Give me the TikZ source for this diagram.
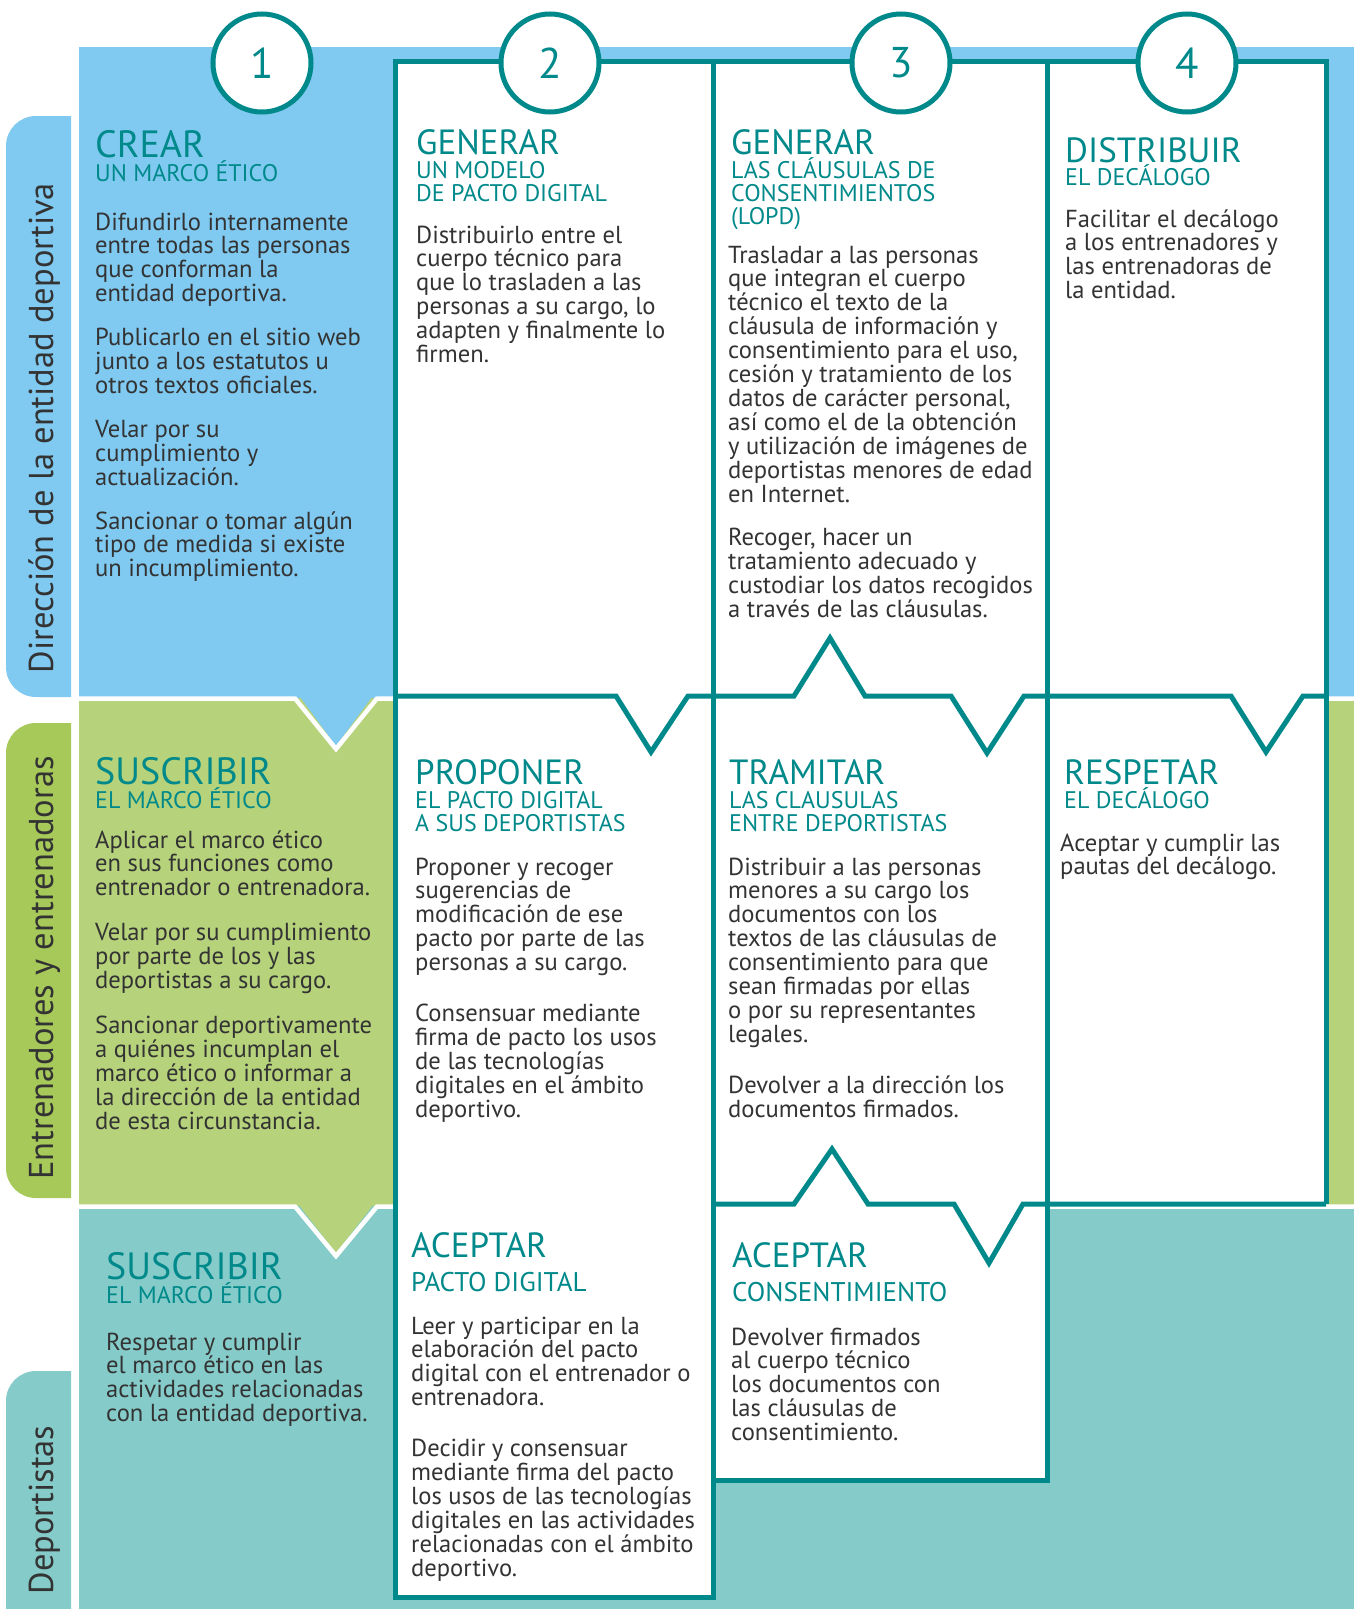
\documentclass[tikz,border=0pt]{standalone}
\usepackage{fontspec}
\setmainfont{PT Sans}
\usetikzlibrary{positioning}
\definecolor{bandblue}{HTML}{80CAF1}
\definecolor{bandgreen}{HTML}{B6D27B}
\definecolor{tabgreen}{HTML}{A6C95A}
\definecolor{bandteal}{HTML}{85CBC9}
\definecolor{lineteal}{HTML}{00898A}
\definecolor{txtgray}{HTML}{333333}
\newcommand{\blk}[1]{\begin{minipage}[t]{500pt}\lineskiplimit=-40pt\raggedright #1\end{minipage}}

\begin{document}
\begin{tikzpicture}[x=1pt, y=-1pt,
  frame/.style={lineteal, line width=5pt, line join=miter},
  sep/.style={white, line width=4.5pt},
  hd/.style={anchor=base west, inner sep=0pt, text=lineteal, font=\fontsize{35}{35}\selectfont},
  hdl/.style={hd, font=\fontsize{38}{38}\selectfont},
  sub/.style={anchor=base west, inner sep=0pt, text=lineteal, font=\fontsize{24}{23}\selectfont},
  subl/.style={sub, font=\fontsize{27}{27}\selectfont},
  body/.style={anchor=base west, inner sep=0pt, text=txtgray, font=\fontsize{24.6}{23.9}\selectfont},
  side/.style={anchor=base, rotate=90, inner sep=0pt, text=txtgray, font=\fontsize{34.5}{34.5}\selectfont},
  num/.style={circle, draw=lineteal, fill=white, line width=5pt, minimum size=98pt, inner sep=0pt, text=lineteal, font=\fontsize{43}{43}\selectfont}]
  \useasboundingbox[fill=white] (0,0) rectangle (1354,1609);

  \fill[bandblue, rounded corners=30pt] (71,116) -- (6,116) -- (6,697) -- (71,697);
  \fill[tabgreen, rounded corners=30pt] (71,723) -- (6,723) -- (6,1198) -- (71,1198);
  \fill[bandteal, rounded corners=30pt] (71,1371) -- (6,1371) -- (6,1700) -- (71,1700);

  \fill[bandgreen] (79,698) rectangle (1354,1206);
  \fill[bandteal] (79,1206) rectangle (1354,1609);
  \fill[bandgreen] (295,1200) -- (336,1253) -- (377,1200) -- cycle;
  \fill[bandblue] (79,47) rectangle (1354,698);
  \fill[bandblue] (295,690) -- (336,746) -- (377,690) -- cycle;
  \draw[sep] (79,698.5) -- (295,698.5) -- (336,749) -- (377,698.5) -- (1354,698.5);
  \draw[sep] (79,1206.5) -- (295,1206.5) -- (336,1256) -- (377,1206.5) -- (1354,1206.5);

  \fill[white] (395,61) rectangle (713,1597);
  \fill[white] (713,61) rectangle (1047,1480);
  \fill[white] (1047,61) rectangle (1326,1204);

  \draw[frame] (713,61) -- (713,1597) -- (395,1597) -- (395,61) -- (1326,61) -- (1326,1204);
  \draw[frame] (1047,61) -- (1047,1480) -- (713,1480);
  \draw[frame] (395,696) -- (616,696) -- (651,752) -- (688,696) -- (794,696) -- (830,638) -- (865,696)
    -- (951,696) -- (987,753) -- (1024,696) -- (1231,696) -- (1266,752) -- (1303,696) -- (1326,696);
  \draw[frame] (713,1204) -- (794,1204) -- (832,1149) -- (868,1204) -- (954,1204) -- (989,1263)
    -- (1023,1204) -- (1326,1204);

  \node[side] (dir) at (53,428) {Dirección de la entidad deportiva};
  \node[side] (ent) at (53,968) {Entrenadores y entrenadoras};
  \node[side] (dep) at (53,1510) {Deportistas};

  \node[hdl] (crear) at (95,157) {CREAR};
  \node[sub] (crearsub) at (95,181) {UN MARCO ÉTICO};
  \node[body] (crearbody) at (95,230) {\blk{Difundirlo internamente\\entre todas las personas\\que conforman la\\entidad deportiva.\\[20pt]Publicarlo en el sitio web\\junto a los estatutos u\\otros textos oficiales.\\[20pt]Velar por su\\cumplimiento y\\actualización.\\[20pt]Sancionar o tomar algún\\tipo de medida si existe\\un incumplimiento.}};

  \node[hdl] (suscent) at (95,784) {SUSCRIBIR};
  \node[sub] (suscentsub) at (95,808.5) {EL MARCO ÉTICO};
  \node[body] (suscentbody) at (95,848) {\blk{Aplicar el marco ético\\en sus funciones como\\entrenador o entrenadora.\\[21pt]Velar por su cumplimiento\\por parte de los y las\\deportistas a su cargo.\\[21pt]Sancionar deportivamente\\a quiénes incumplan el\\marco ético o informar a\\la dirección de la entidad\\de esta circunstancia.}};

  \node[hdl] (suscdep) at (106,1279) {SUSCRIBIR};
  \node[sub] (suscdepsub) at (106,1303) {EL MARCO ÉTICO};
  \node[body] (suscdepbody) at (106,1350) {\blk{Respetar y cumplir\\el marco ético en las\\actividades relacionadas\\con la entidad deportiva.}};

  \node[hd] (genpacto) at (416,154) {GENERAR};
  \node[sub] (genpactosub) at (416,178) {\blk{UN MODELO\\DE PACTO DIGITAL}};
  \node[body] (genpactobody) at (416,243) {\blk{Distribuirlo entre el\\cuerpo técnico para\\que lo trasladen a las\\personas a su cargo, lo\\adapten y finalmente lo\\firmen.}};

  \node[hd] (proponer) at (415,784) {PROPONER};
  \node[sub] (proponersub) at (415,808.5) {\blk{EL PACTO DIGITAL\\A SUS DEPORTISTAS}};
  \node[body] (proponerbody) at (415,875) {\blk{Proponer y recoger\\sugerencias de\\modificación de ese\\pacto por parte de las\\personas a su cargo.\\[27pt]Consensuar mediante\\firma de pacto los usos\\de las tecnologías\\digitales en el ámbito\\deportivo.}};

  \node[hd] (acepacto) at (411,1257) {ACEPTAR};
  \node[subl] (acepactosub) at (411,1291) {PACTO DIGITAL};
  \node[body] (acepactobody) at (411,1334) {\blk{Leer y participar en la\\elaboración del pacto\\digital con el entrenador o\\entrenadora.\\[27pt]Decidir y consensuar\\mediante firma del pacto\\los usos de las tecnologías\\digitales en las actividades\\relacionadas con el ámbito\\deportivo.}};

  \node[hd] (genclaus) at (731,154) {GENERAR};
  \node[sub] (genclaussub) at (731,178) {\blk{LAS CLÁUSULAS DE\\CONSENTIMIENTOS\\(LOPD)}};
  \node[body] (genclausbody) at (728,263) {\blk{Trasladar a las personas\\que integran el cuerpo\\técnico el texto de la\\cláusula de información y\\consentimiento para el uso,\\cesión y tratamiento de los\\datos de carácter personal,\\así como el de la obtención\\y utilización de imágenes de\\deportistas menores de edad\\en Internet.\\[20pt]Recoger, hacer un\\tratamiento adecuado y\\custodiar los datos recogidos\\a través de las cláusulas.}};

  \node[hd] (tramitar) at (729,784) {TRAMITAR};
  \node[sub] (tramitarsub) at (729,808.5) {\blk{LAS CLAUSULAS\\ENTRE DEPORTISTAS}};
  \node[body] (tramitarbody) at (728,875) {\blk{Distribuir a las personas\\menores a su cargo los\\documentos con los\\textos de las cláusulas de\\consentimiento para que\\sean firmadas por ellas\\o por su representantes\\legales.\\[27pt]Devolver a la dirección los\\documentos firmados.}};

  \node[hd] (aceclaus) at (732,1267) {ACEPTAR};
  \node[subl] (aceclaussub) at (732,1301) {CONSENTIMIENTO};
  \node[body] (aceclausbody) at (731,1345) {\blk{Devolver firmados\\al cuerpo técnico\\los documentos con\\las cláusulas de\\consentimiento.}};

  \node[hd] (distrib) at (1065,162) {DISTRIBUIR};
  \node[sub] (distribsub) at (1065,185) {EL DECÁLOGO};
  \node[body] (distribbody) at (1065,227) {\blk{Facilitar el decálogo\\a los entrenadores y\\las entrenadoras de\\la entidad.}};

  \node[hd] (respetar) at (1064,784) {RESPETAR};
  \node[sub] (respetarsub) at (1064,808.5) {EL DECÁLOGO};
  \node[body] (respetarbody) at (1060,851) {\blk{Aceptar y cumplir las\\pautas del decálogo.}};

  \node[num] (paso1) at (262,63) {1};
  \node[num] (paso2) at (550,63) {2};
  \node[num] (paso3) at (901,63) {3};
  \node[num] (paso4) at (1187,63) {4};
\end{tikzpicture}
\end{document}
